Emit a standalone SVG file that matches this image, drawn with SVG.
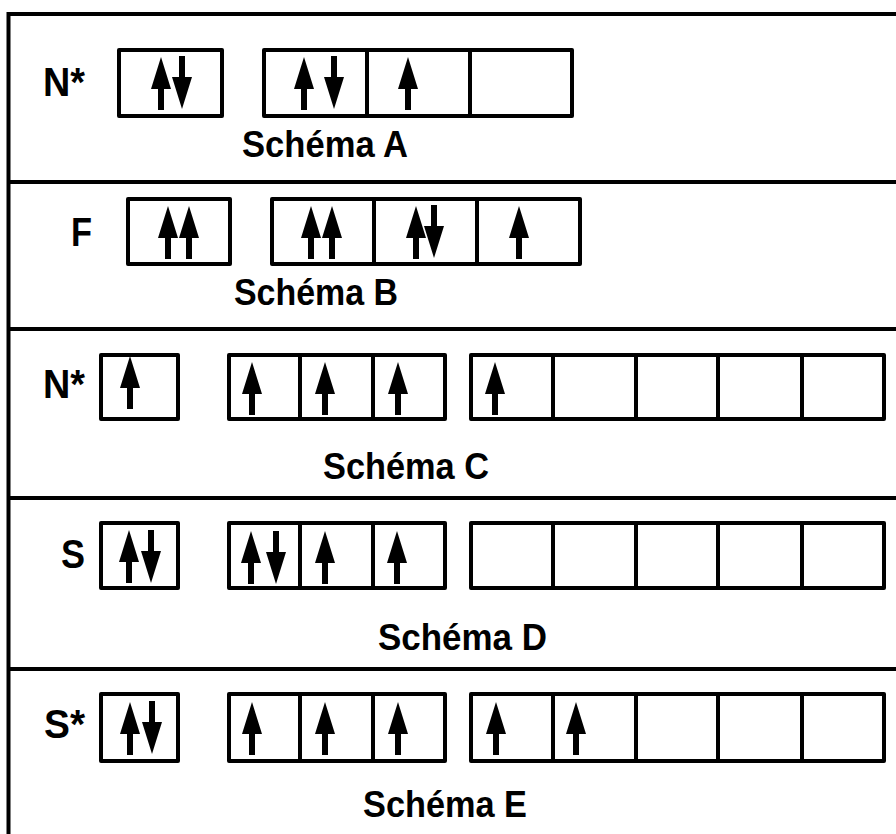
<svg xmlns="http://www.w3.org/2000/svg" xmlns:xlink="http://www.w3.org/1999/xlink" width="896" height="834" viewBox="0 0 896 834">
<style>
.frame{fill:none;stroke:#000;stroke-width:4}
.box{fill:#fff;stroke:#000;stroke-width:4;stroke-linejoin:round}
.div{stroke:#000;stroke-width:4}
.lbl{font-family:"Liberation Sans",Arial,sans-serif;font-weight:bold;font-size:40px;fill:#000}
.cap{font-family:"Liberation Sans",Arial,sans-serif;font-weight:bold;font-size:37px;fill:#000}
</style>
<defs>
<path id="up" d="M0,0 L10,32 L3,32 L3,53 L-3,53 L-3,32 L-10,32 Z" fill="#000"/>
<path id="dn" d="M-3,0 L3,0 L3,21 L10,21 L0,53 L-10,21 L-3,21 Z" fill="#000"/>
</defs>
<rect width="896" height="834" fill="#fff"/>
<g id="frame">
<rect class="frame" x="8.5" y="14" width="900" height="840"/>
<line class="div" x1="8" y1="182" x2="900" y2="182"/>
<line class="div" x1="8" y1="329" x2="900" y2="329"/>
<line class="div" x1="8" y1="498" x2="900" y2="498"/>
<line class="div" x1="8" y1="669" x2="900" y2="669"/>
</g>
<g id="schema-A">
<text class="lbl" x="43" y="96" textLength="42" lengthAdjust="spacingAndGlyphs">N*</text>
<rect class="box" x="119" y="50" width="103" height="66"/>
<use xlink:href="#up" x="161" y="57"/>
<use xlink:href="#dn" x="182" y="56"/>
<rect class="box" x="264" y="50" width="308" height="66"/>
<line class="div" x1="367" y1="50" x2="367" y2="116"/>
<line class="div" x1="470" y1="50" x2="470" y2="116"/>
<use xlink:href="#up" x="304" y="57"/>
<use xlink:href="#dn" x="334" y="56"/>
<use xlink:href="#up" x="408" y="57"/>
<text class="cap" x="242" y="157" textLength="166" lengthAdjust="spacingAndGlyphs">Schéma A</text>
</g>
<g id="schema-B">
<text class="lbl" x="71" y="246" textLength="21" lengthAdjust="spacingAndGlyphs">F</text>
<rect class="box" x="128" y="199" width="102" height="65"/>
<use xlink:href="#up" x="168" y="206"/>
<use xlink:href="#up" x="189" y="206"/>
<rect class="box" x="272" y="199" width="308" height="65"/>
<line class="div" x1="374" y1="199" x2="374" y2="264"/>
<line class="div" x1="477" y1="199" x2="477" y2="264"/>
<use xlink:href="#up" x="311" y="206"/>
<use xlink:href="#up" x="332" y="206"/>
<use xlink:href="#up" x="416" y="206"/>
<use xlink:href="#dn" x="434" y="205"/>
<use xlink:href="#up" x="519" y="206"/>
<text class="cap" x="234" y="305" textLength="164" lengthAdjust="spacingAndGlyphs">Schéma B</text>
</g>
<g id="schema-C">
<text class="lbl" x="43" y="398" textLength="42" lengthAdjust="spacingAndGlyphs">N*</text>
<rect class="box" x="101" y="355" width="77" height="64"/>
<use xlink:href="#up" x="130" y="356"/>
<rect class="box" x="229" y="355" width="216" height="64"/>
<line class="div" x1="300" y1="355" x2="300" y2="419"/>
<line class="div" x1="373" y1="355" x2="373" y2="419"/>
<use xlink:href="#up" x="252" y="362"/>
<use xlink:href="#up" x="325" y="362"/>
<use xlink:href="#up" x="398" y="362"/>
<rect class="box" x="471" y="355" width="413" height="64"/>
<line class="div" x1="553" y1="355" x2="553" y2="419"/>
<line class="div" x1="636" y1="355" x2="636" y2="419"/>
<line class="div" x1="718" y1="355" x2="718" y2="419"/>
<line class="div" x1="802" y1="355" x2="802" y2="419"/>
<use xlink:href="#up" x="495" y="362"/>
<text class="cap" x="323" y="479" textLength="166" lengthAdjust="spacingAndGlyphs">Schéma C</text>
</g>
<g id="schema-D">
<text class="lbl" x="61" y="568" textLength="24" lengthAdjust="spacingAndGlyphs">S</text>
<rect class="box" x="101" y="523" width="77" height="65"/>
<use xlink:href="#up" x="129" y="530"/>
<use xlink:href="#dn" x="151" y="530"/>
<rect class="box" x="229" y="523" width="216" height="65"/>
<line class="div" x1="300" y1="523" x2="300" y2="588"/>
<line class="div" x1="373" y1="523" x2="373" y2="588"/>
<use xlink:href="#up" x="251" y="531"/>
<use xlink:href="#dn" x="276" y="531"/>
<use xlink:href="#up" x="325" y="531"/>
<use xlink:href="#up" x="397" y="531"/>
<rect class="box" x="471" y="523" width="413" height="65"/>
<line class="div" x1="553" y1="523" x2="553" y2="588"/>
<line class="div" x1="636" y1="523" x2="636" y2="588"/>
<line class="div" x1="718" y1="523" x2="718" y2="588"/>
<line class="div" x1="802" y1="523" x2="802" y2="588"/>
<text class="cap" x="378" y="650" textLength="169" lengthAdjust="spacingAndGlyphs">Schéma D</text>
</g>
<g id="schema-E">
<text class="lbl" x="44" y="738" textLength="41" lengthAdjust="spacingAndGlyphs">S*</text>
<rect class="box" x="101" y="694" width="77" height="67"/>
<use xlink:href="#up" x="130" y="702"/>
<use xlink:href="#dn" x="152" y="701"/>
<rect class="box" x="229" y="694" width="216" height="67"/>
<line class="div" x1="300" y1="694" x2="300" y2="761"/>
<line class="div" x1="373" y1="694" x2="373" y2="761"/>
<use xlink:href="#up" x="252" y="702"/>
<use xlink:href="#up" x="325" y="702"/>
<use xlink:href="#up" x="398" y="702"/>
<rect class="box" x="471" y="694" width="413" height="67"/>
<line class="div" x1="553" y1="694" x2="553" y2="761"/>
<line class="div" x1="636" y1="694" x2="636" y2="761"/>
<line class="div" x1="718" y1="694" x2="718" y2="761"/>
<line class="div" x1="802" y1="694" x2="802" y2="761"/>
<use xlink:href="#up" x="496" y="702"/>
<use xlink:href="#up" x="576" y="702"/>
<text class="cap" x="363" y="817" textLength="164" lengthAdjust="spacingAndGlyphs">Schéma E</text>
</g>
</svg>
